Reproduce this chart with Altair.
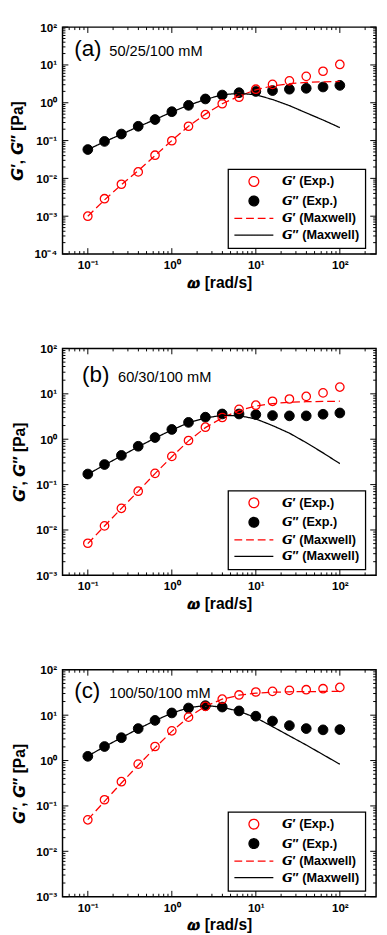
import altair as alt
import pandas as pd

# ---------------- data ----------------
omega = [0.1, 0.158, 0.251, 0.398, 0.631, 1.0, 1.58, 2.51, 3.98, 6.31,
         10.0, 15.8, 25.1, 39.8, 63.1, 100.0]

# panel (a) 50/25/100 mM
a_gp_exp = [0.0010, 0.0029, 0.0070, 0.0148, 0.041, 0.099, 0.239, 0.484, 0.94, 1.40,
            2.28, 3.06, 3.79, 4.99, 6.8, 10.3]
a_gpp_exp = [0.058, 0.095, 0.149, 0.239, 0.36, 0.58, 0.855, 1.26, 1.60, 1.84,
             1.99, 2.10, 2.28, 2.41, 2.61, 2.88]
a_gp_mx = [0.0010, 0.0027, 0.0068, 0.016, 0.040, 0.10, 0.24, 0.50, 0.94, 1.5,
           2.2, 2.8, 3.2, 3.45, 3.58, 3.65]
a_gpp_mx = [0.058, 0.093, 0.147, 0.232, 0.36, 0.57, 0.86, 1.22, 1.62, 1.78,
            1.62, 1.22, 0.84, 0.54, 0.35, 0.22]

# panel (b) 60/30/100 mM
b_gp_exp = [0.0051, 0.0123, 0.030, 0.0715, 0.177, 0.418, 0.936, 1.84, 3.01, 4.54,
            5.62, 6.85, 7.69, 8.77, 10.5, 14.1]
b_gpp_exp = [0.171, 0.277, 0.44, 0.70, 1.09, 1.64, 2.35, 3.06, 3.6, 3.6,
             3.49, 3.32, 3.27, 3.27, 3.55, 3.79]
b_gp_mx = [0.0050, 0.0122, 0.030, 0.071, 0.175, 0.41, 0.92, 1.8, 2.95, 4.3,
           5.4, 6.1, 6.5, 6.7, 6.8, 6.87]
b_gpp_mx = [0.17, 0.27, 0.43, 0.68, 1.06, 1.6, 2.3, 2.95, 3.35, 3.3,
            2.8, 2.0, 1.36, 0.84, 0.5, 0.29]

# panel (c) 100/50/100 mM
c_gp_exp = [0.0494, 0.137, 0.342, 0.834, 2.04, 4.52, 9.06, 15.6, 22.5, 27.9,
            32.4, 33.5, 35.2, 36.4, 38.3, 40.9]
c_gpp_exp = [1.24, 2.04, 3.19, 5.07, 7.67, 11.2, 14.4, 16.2, 15.1, 12.4,
             9.5, 7.43, 5.89, 5.07, 4.75, 4.82]
c_gp_mx = [0.050, 0.126, 0.32, 0.79, 1.9, 4.4, 9.0, 15.8, 22.5, 27.5,
           30.5, 32.0, 32.8, 33.1, 33.3, 33.4]
c_gpp_mx = [1.26, 2.02, 3.19, 5.0, 7.6, 11.1, 14.6, 16.4, 15.0, 12.2,
            8.8, 5.6, 3.5, 2.2, 1.35, 0.83]

panel_letters = ["(a)", "(b)", "(c)"]
panel_concs = ["50/25/100 mM", "60/30/100 mM", "100/50/100 mM"]
y_domains = [[1e-4, 1e2], [1e-3, 1e2], [1e-3, 1e2]]
x_domain = [0.05, 270]

x_major = [0.1, 1, 10, 100]
sup = ["\u207b\u2074", "\u207b\u00b3", "\u207b\u00b2", "\u207b\u00b9", "\u2070", "\u00b9", "\u00b2"]

S_GP_EXP = "\U0001D642\u2032 (Exp.)"
S_GPP_EXP = "\U0001D642\u2033 (Exp.)"
S_GP_MX = "\U0001D642\u2032 (Maxwell)"
S_GPP_MX = "\U0001D642\u2033 (Maxwell)"
series_order = [S_GP_EXP, S_GPP_EXP, S_GP_MX, S_GPP_MX]

X_TITLE = "\U0001D74E [rad/s]"
Y_TITLE = "\U0001D642\u2032, \U0001D642\u2033 [Pa]"

# ---------------- styling ----------------
FONT = "Liberation Sans"
RED = "#ff0000"
W, H = 322, 233
MAJ, MIN = 6, 3

stroke_scale = alt.Scale(domain=series_order, range=[RED, "black", RED, "black"])
fill_scale = alt.Scale(domain=series_order, range=["transparent", "black", "transparent", "transparent"])
shape_scale = alt.Scale(domain=series_order, range=["circle", "circle", "M-4,0L4,0", "M-4,0L4,0"])
dash_scale = alt.Scale(domain=series_order, range=[[1, 0], [1, 0], [8, 4], [1, 0]])

label_expr = "'10' + " + str(sup).replace('"', "'") + "[round(log(datum.value)/LN10)+4]"


def minor_vals(lo, hi):
    out = []
    for e in range(-5, 4):
        for m in range(2, 10):
            v = m * 10.0 ** e
            if lo < v < hi:
                out.append(float("%.6g" % v))
    return out


def major_vals(lo, hi):
    return [10.0 ** e for e in range(-5, 4) if lo <= 10.0 ** e <= hi]


def label_axis(orient, values):
    kw = dict(orient=orient, values=values, ticks=False, tickSize=0, domain=False,
              grid=False, labelExpr=label_expr, labelFont=FONT, labelFontSize=12,
              labelFontWeight="bold", labelColor="black", labelPadding=6,
              titleFont=FONT, titleFontSize=16, titleFontWeight="bold",
              titleColor="black")
    if orient == "bottom":
        kw.update(titlePadding=4, labelFlush=False)
    else:
        kw.update(titlePadding=9)
    return alt.Axis(**kw)


def frame(series, vals):
    return pd.DataFrame({"omega": omega, "value": vals, "series": series})


def panel(i, gp_exp, gpp_exp, gp_mx, gpp_mx, letter_x, conc_x, text_y):
    ylo, yhi = y_domains[i]
    xlo, xhi = x_domain
    xs = alt.Scale(type="log", domain=x_domain, nice=False)
    ys = alt.Scale(type="log", domain=[ylo, yhi], nice=False)
    ymaj = major_vals(ylo, yhi)
    x_ax = label_axis("bottom", x_major)
    y_ax = label_axis("left", ymaj)

    def X(field):
        return alt.X(field, scale=xs, axis=x_ax, title=X_TITLE)

    def Y(field):
        return alt.Y(field, scale=ys, axis=y_ax, title=Y_TITLE)

    stroke = alt.Stroke("series:N", scale=stroke_scale, title=None)
    fill = alt.Fill("series:N", scale=fill_scale, title=None)
    shape = alt.Shape("series:N", scale=shape_scale, title=None)
    dash = alt.StrokeDash("series:N", scale=dash_scale, title=None)

    l_gp_mx = alt.Chart(frame(S_GP_MX, gp_mx)).mark_line(strokeWidth=1.3).encode(
        x=X("omega:Q"), y=Y("value:Q"), stroke=stroke, strokeDash=dash)
    l_gpp_mx = alt.Chart(frame(S_GPP_MX, gpp_mx)).mark_line(strokeWidth=1.3).encode(
        x=X("omega:Q"), y=Y("value:Q"), stroke=stroke, strokeDash=dash)
    l_gpp_pts = alt.Chart(frame(S_GPP_EXP, gpp_exp)).mark_point(
        size=100, strokeWidth=1, opacity=1, filled=True
    ).encode(x=X("omega:Q"), y=Y("value:Q"), stroke=stroke, fill=fill, shape=shape)
    l_gp_pts = alt.Chart(frame(S_GP_EXP, gp_exp)).mark_point(
        size=75, strokeWidth=1.3, opacity=1
    ).encode(x=X("omega:Q"), y=Y("value:Q"), stroke=stroke, fill=fill, shape=shape)

    # inward tick marks on the four frame edges, drawn as short line symbols
    ticks = []

    def tick(vals, edge, path, length, vertical):
        d = pd.DataFrame({"v": vals, "e": [edge] * len(vals)})
        m = alt.Chart(d).mark_point(shape=path, size=(2 * length) ** 2, stroke="black",
                                    strokeWidth=1, filled=False, opacity=1)
        if vertical:
            return m.encode(x=X("v:Q"), y=Y("e:Q"))
        return m.encode(y=Y("v:Q"), x=X("e:Q"))

    for vals, L in ((x_major, MAJ), (minor_vals(xlo, xhi), MIN)):
        ticks.append(tick(vals, ylo, "M0,0L0,-1", L, True))
        ticks.append(tick(vals, yhi, "M0,0L0,1", L, True))
    for vals, L in ((ymaj, MAJ), (minor_vals(ylo, yhi), MIN)):
        ticks.append(tick(vals, xlo, "M0,0L1,0", L, False))
        ticks.append(tick(vals, xhi, "M0,0L-1,0", L, False))

    t_letter = alt.Chart(pd.DataFrame({"t": [panel_letters[i]]})).mark_text(
        font=FONT, fontSize=23, align="left", baseline="alphabetic", color="black"
    ).encode(text="t:N", x=alt.value(letter_x), y=alt.value(text_y))
    t_conc = alt.Chart(pd.DataFrame({"t": [panel_concs[i]]})).mark_text(
        font=FONT, fontSize=15, align="left", baseline="alphabetic", color="black"
    ).encode(text="t:N", x=alt.value(conc_x), y=alt.value(text_y))

    return alt.layer(
        l_gpp_pts, l_gp_pts, l_gp_mx, l_gpp_mx, *ticks, t_letter, t_conc
    ).properties(width=W, height=H)


pa = panel(0, a_gp_exp, a_gpp_exp, a_gp_mx, a_gpp_mx, 12, 48, 30)
pb = panel(1, b_gp_exp, b_gpp_exp, b_gp_mx, b_gpp_mx, 20, 57, 34)
pc = panel(2, c_gp_exp, c_gpp_exp, c_gp_mx, c_gpp_mx, 12, 48, 29)

chart = alt.vconcat(pa, pb, pc, spacing=52).resolve_scale(
    stroke="independent", fill="independent", shape="independent", strokeDash="independent"
).properties(padding=0).configure_view(
    stroke="black", strokeWidth=1.5
).configure_legend(
    orient="none", legendX=170, legendY=146, strokeColor="black", strokeWidth=1.3,
    fillColor="white", padding=6, labelFont=FONT, labelFontSize=13,
    labelFontWeight="bold", labelColor="black", symbolSize=100,
    symbolStrokeWidth=1.3, symbolOffset=14, labelOffset=22, rowPadding=3,
    cornerRadius=0
)

chart.save("out.html", embed_options={"renderer": "svg", "actions": False})
